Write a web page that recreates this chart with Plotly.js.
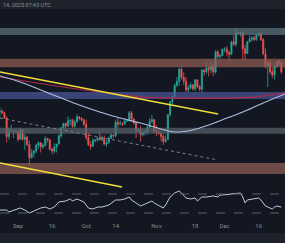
<!DOCTYPE html>
<html><head><meta charset="utf-8">
<script src="https://cdn.plot.ly/plotly-3.0.1.min.js"></script>
<style>html,body{margin:0;padding:0;background:#131722;overflow:hidden}#chart{width:285px;height:243px}</style>
</head><body><div id="chart"></div>
<script>
// ---- data (ETH/USD daily) ----
const firstDay = '2024-08-24';
const firstOpen = 2760;
const closes = [
  2768,2746,2680,2458,2528,2528,2525,2513,
  2425,2537,2424,2450,2368,2225,2272,2297,2359,2387,2341,2360,2436,2418,2316,2295,2340,2372,2467,2561,2613,2581,2645,2652,2580,2632,2695,2677,2658,2603,
  2447,2364,2349,2414,2414,2440,2422,2440,2370,2385,2438,2475,2468,2628,2606,2610,2604,2644,2647,2747,2667,2622,2525,2536,2480,2507,2515,2568,2637,2660,2519,
  2512,2493,2458,2399,2422,2721,2894,2961,3127,3182,3371,3245,3185,3059,3089,3133,3074,3206,3105,3069,3357,3327,3392,3362,3414,3325,3658,3577,3591,3703,
  3707,3648,3615,3834,3788,4000,3996,4005,3710,3630,3835,3879,3907,3874,3958,3986,3874,3625,3422,3470,3330,3280,3420,3490,3480,3330
];
const highs = [
  2820,2792,2762,2700,2560,2600,2540,2535,
  2520,2560,2550,2490,2465,2410,2315,2310,2375,2400,2390,2380,2460,2440,2430,2330,2380,2375,2480,2570,2620,2625,2700,2670,2670,2660,2730,2705,2690,2670,
  2660,2500,2400,2440,2430,2450,2520,2470,2470,2420,2460,2490,2480,2660,2690,2650,2630,2670,2660,2770,2770,2680,2630,2560,2580,2510,2530,2580,2680,2720,2670,
  2590,2540,2500,2480,2470,2730,2900,2980,3150,3250,3390,3400,3320,3250,3130,3170,3140,3220,3220,3130,3380,3370,3490,3420,3500,3460,3680,3690,3620,3710,
  3740,3760,3670,3850,3950,4090,4020,4020,4010,3780,3850,3950,3940,3940,3970,4010,4000,3900,3720,3500,3530,3400,3440,3500,3520,3490
];
const lows = [
  2670,2733,2670,2390,2420,2500,2440,2500,
  2400,2420,2410,2310,2350,2150,2215,2230,2270,2320,2280,2320,2340,2390,2300,2260,2270,2280,2370,2440,2545,2540,2570,2590,2560,2560,2620,2650,2640,2580,
  2420,2350,2310,2340,2390,2400,2410,2400,2360,2340,2380,2430,2440,2450,2560,2590,2580,2600,2630,2640,2640,2600,2440,2510,2400,2460,2470,2480,2560,2620,2500,
  2460,2480,2400,2360,2390,2420,2700,2860,2950,3100,3120,3210,3130,3030,3020,3070,3050,3040,3080,3040,3030,3270,3300,3260,3310,3260,3300,3550,3540,3580,
  3650,3580,3500,3600,3760,3750,3970,3930,3530,3520,3620,3820,3840,3850,3850,3930,3850,3600,3380,3100,3300,3230,3210,3390,3430,3300
];
// horizontal zones (price bands)
const zoneLow  = [3960, 3400, 2930, 2490, 2060];
const zoneHigh = [4090, 3540, 3030, 2560, 2170];
// moving averages
const ma100Dates = ['2024-08-24','2024-09-02','2024-09-11','2024-09-20','2024-09-28','2024-10-07','2024-10-16','2024-10-25','2024-11-03','2024-11-09','2024-11-17','2024-11-24','2024-12-02','2024-12-09','2024-12-17','2024-12-27 14:00'];
const ma100 = [3265,3174,3057,2944,2849,2757,2680,2618,2546,2510,2534,2594,2680,2757,2863,3000];
const ma200Dates = ['2024-08-24','2024-09-15','2024-10-07','2024-10-25','2024-11-07','2024-11-20','2024-12-03','2024-12-14','2024-12-21','2024-12-27 14:00'];
const ma200 = [3250,3130,3029,2958,2944,2944,2944,2958,2986,3014];
// trend lines
const upperTrendDates = ['2024-08-24 01:40','2024-11-28 02:24'];
const upperTrend = [3327, 2731];
const channelDates = ['2024-08-24 01:40','2024-11-28 02:24'];
const channelLine = [2680, 2201];
const lowerTrendDates = ['2024-08-24 01:40','2024-10-16 19:30'];
const lowerTrend = [2170, 1939];
// RSI
const rsiDates = ['2024-08-24','2024-08-27','2024-08-28','2024-09-01','2024-09-02','2024-09-04','2024-09-06','2024-09-08','2024-09-11','2024-09-13','2024-09-15','2024-09-17','2024-09-19','2024-09-22','2024-09-24','2024-09-25','2024-09-27','2024-09-30',
  '2024-10-02','2024-10-04','2024-10-06','2024-10-08','2024-10-11','2024-10-14','2024-10-16','2024-10-18','2024-10-20','2024-10-21','2024-10-23','2024-10-25','2024-10-27','2024-10-30','2024-10-31',
  '2024-11-03','2024-11-04','2024-11-05','2024-11-07','2024-11-09','2024-11-11','2024-11-12','2024-11-14','2024-11-16','2024-11-18','2024-11-19','2024-11-21','2024-11-23','2024-11-26','2024-11-28','2024-11-29','2024-11-30',
  '2024-12-03','2024-12-06','2024-12-08','2024-12-09','2024-12-10','2024-12-11','2024-12-14','2024-12-16','2024-12-17','2024-12-19','2024-12-20','2024-12-22','2024-12-23','2024-12-24','2024-12-26'];
const rsi = [36.3,36.3,32.1,38.4,40.5,36.3,30.0,34.2,40.5,42.6,38.4,42.6,53.2,55.3,59.5,55.3,59.5,53.2,
  40.5,38.4,42.6,42.6,46.8,57.4,57.4,59.5,63.7,57.4,51.1,44.7,49.0,55.3,51.1,
  42.6,40.5,46.8,63.7,72.1,76.3,72.1,61.6,59.5,61.6,55.3,63.7,63.7,65.8,63.7,67.9,67.9,
  70.0,72.1,72.1,63.7,51.1,57.4,59.5,61.6,57.4,44.7,42.6,38.4,42.6,44.7,42.6];
const rsiLevels = [70, 30];
const tickDates = ['2024-09-01','2024-09-16','2024-10-01','2024-10-14','2024-11-01','2024-11-18','2024-12-01','2024-12-16'];
const tickLabels = ['Sep','16','Oct','14','Nov','18','Dec','16'];
const headerText = '14, 2025 07:43 UTC';

// ---- build ----
function addDays(s, n) {
  const d = new Date(s + 'T00:00:00Z');
  d.setUTCDate(d.getUTCDate() + n);
  return d.toISOString().slice(0, 10);
}
const dates = closes.map((_, i) => addDays(firstDay, i));
const opens = closes.map((c, i) => i === 0 ? firstOpen : closes[i - 1]);
const xStart = '2024-08-24 01:40', xEnd = '2024-12-27 14:24';

const traces = [];
traces.push({
  type: 'candlestick', x: dates, open: opens, high: highs, low: lows, close: closes,
  xaxis: 'x', yaxis: 'y', whiskerwidth: 0,
  increasing: {line: {color: '#26a69a', width: 0.8}, fillcolor: '#26a69a'},
  decreasing: {line: {color: '#ef5350', width: 0.8}, fillcolor: '#ef5350'},
  hoverinfo: 'skip'
});
const zoneColors = ['rgba(90,115,124,0.72)','rgba(146,94,84,0.72)','rgba(73,88,153,0.72)','rgba(88,99,106,0.72)','rgba(146,94,84,0.72)'];
zoneLow.forEach((lo, i) => {
  traces.push({type: 'scatter', mode: 'lines', x: [xStart, xEnd, xEnd, xStart, xStart],
    y: [lo, lo, zoneHigh[i], zoneHigh[i], lo], fill: 'toself', fillcolor: zoneColors[i],
    line: {width: 0}, hoverinfo: 'skip', xaxis: 'x', yaxis: 'y'});
});
traces.push({type: 'scatter', mode: 'lines', x: ma200Dates, y: ma200, line: {color: '#b0284a', width: 1.2, shape: 'spline'}, xaxis: 'x', yaxis: 'y', hoverinfo: 'skip'});
traces.push({type: 'scatter', mode: 'lines', x: ma100Dates, y: ma100, line: {color: '#aebfe2', width: 1.1, shape: 'spline'}, xaxis: 'x', yaxis: 'y', hoverinfo: 'skip'});
traces.push({type: 'scatter', mode: 'lines', x: channelDates, y: channelLine, line: {color: '#7d808a', width: 1, dash: 'dot'}, xaxis: 'x', yaxis: 'y', hoverinfo: 'skip'});
traces.push({type: 'scatter', mode: 'lines', x: upperTrendDates, y: upperTrend, line: {color: '#f2de3a', width: 1.5}, xaxis: 'x', yaxis: 'y', hoverinfo: 'skip'});
traces.push({type: 'scatter', mode: 'lines', x: lowerTrendDates, y: lowerTrend, line: {color: '#f2de3a', width: 1.5}, xaxis: 'x', yaxis: 'y', hoverinfo: 'skip'});
traces.push({type: 'scatter', mode: 'lines', x: rsiDates, y: rsi, line: {color: '#c3cadb', width: 1}, xaxis: 'x', yaxis: 'y2', hoverinfo: 'skip'});

const plotH = 243 - 9 - 22;
const shapes = [
  {type: 'rect', xref: 'paper', yref: 'paper', x0: 0, x1: 1, y0: 1, y1: 1 + 9 / plotH, fillcolor: '#1e222d', line: {width: 0}, layer: 'below'},
  {type: 'rect', xref: 'paper', yref: 'paper', x0: 0, x1: 1, y0: -12 / plotH, y1: -22 / plotH, fillcolor: '#1e222d', line: {width: 0}, layer: 'below'}
];
rsiLevels.forEach(v => shapes.push({type: 'line', xref: 'paper', x0: 0, x1: 1, yref: 'y2', y0: v, y1: v, line: {color: '#5d606b', width: 1, dash: 'dash'}}));

const layout = {
  width: 285, height: 243,
  margin: {l: 0, r: 0, t: 9, b: 22},
  paper_bgcolor: '#131722', plot_bgcolor: '#131722',
  showlegend: false,
  xaxis: {type: 'date', range: [xStart, xEnd], anchor: 'y2', rangeslider: {visible: false},
    tickvals: tickDates, ticktext: tickLabels, ticks: '', showgrid: false, zeroline: false, showline: false,
    tickfont: {family: 'Roboto, sans-serif', size: 6, color: '#868a93'}},
  yaxis: {type: 'log', range: [Math.log10(1911.7), Math.log10(4472)], domain: [31 / plotH, 1],
    showticklabels: false, showgrid: false, zeroline: false, ticks: ''},
  yaxis2: {range: [13.2, 78.4], domain: [0, 31 / plotH], showticklabels: false, showgrid: false, zeroline: false, ticks: ''},
  shapes: shapes,
  annotations: [{xref: 'paper', yref: 'paper', x: 0.004, y: 1 + 4.5 / plotH, xanchor: 'left', yanchor: 'middle',
    text: headerText, showarrow: false, font: {family: 'Roboto, sans-serif', size: 5.5, color: '#8a8e97'}}]
};
Plotly.newPlot('chart', traces, layout, {staticPlot: true, displayModeBar: false});
</script></body></html>
